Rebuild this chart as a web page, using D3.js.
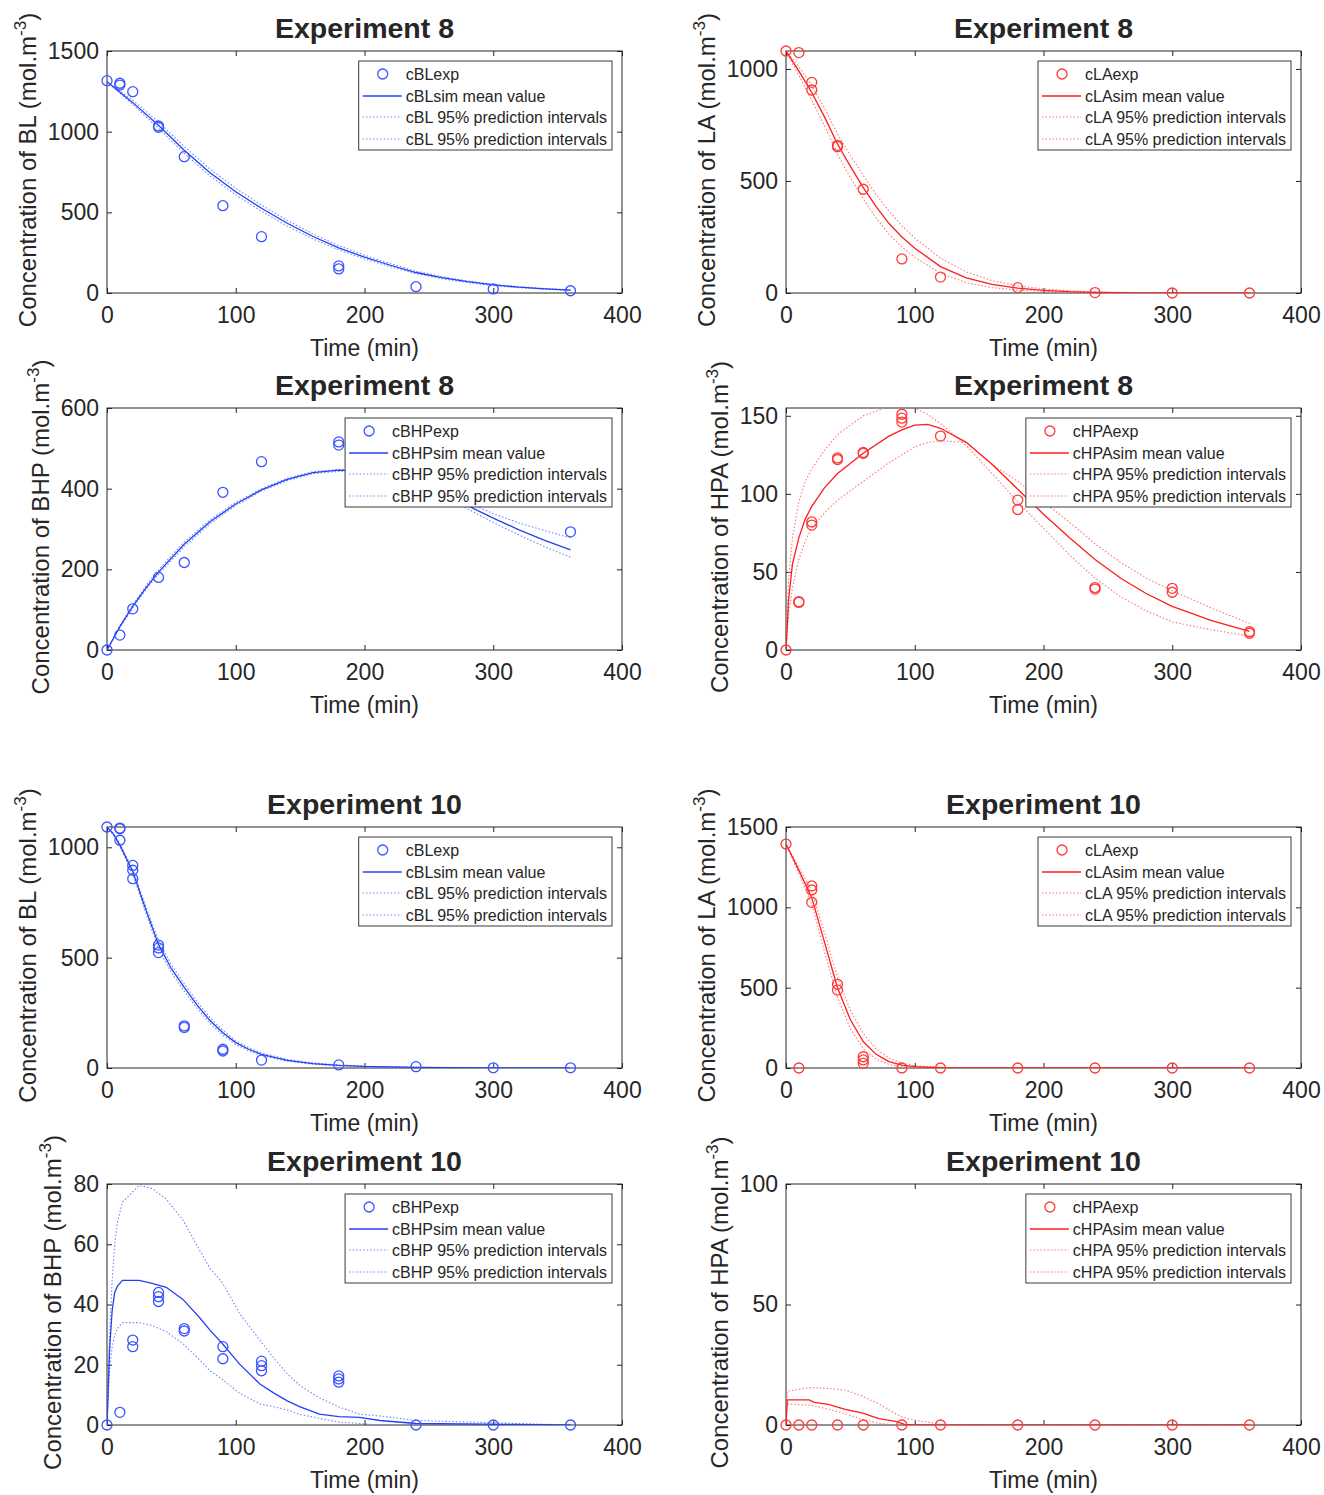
<!DOCTYPE html>
<html><head><meta charset="utf-8">
<script src="https://cdn.jsdelivr.net/npm/d3@7"></script>
<style>
body{margin:0;background:#fff}
text{font-family:"Liberation Sans",Arial,Helvetica,sans-serif;fill:#262626}
</style>
</head><body>
<svg id="chart" width="1324" height="1495"></svg>
<script>
// ---------- DATA ----------
const xTicks = [0,100,200,300,400];

// Exp 8 - BL
const bl8ExpT = [0,10,10,20,40,40,60,90,120,180,180,240,300,360];
const bl8ExpY = [1316,1300,1289,1248,1035,1027,845,541,349,168,149,39,25,14];
const bl8SimT = [0,20,40,60,80,100,120,140,160,180,200,220,240,260,280,300,320,340,360];
const bl8Sim  = [1310,1180,1040,885,745,628,525,432,350,280,222,172,127,95,70,50,36,26,18];
const bl8Pi1  = [1310,1195,1060,908,768,650,545,450,366,294,234,182,135,101,75,54,39,28,20];
const bl8Pi2  = [1310,1168,1022,866,725,608,506,415,335,267,211,163,120,89,65,46,33,24,16];

// Exp 8 - LA
const la8ExpT = [0,10,20,20,40,40,60,90,120,180,240,300,360];
const la8ExpY = [1080,1073,940,906,659,653,463,152,71,24,2,0,0];
const la8SimT = [0,10,20,30,40,50,60,70,80,90,100,120,140,160,180,200,220,240,270,300,330,360];
const la8Sim  = [1080,990,895,785,665,565,470,385,310,250,200,118,68,38,22,12,6,3,1,0,0,0];
const la8Pi1  = [1080,1010,925,825,710,615,525,440,365,300,245,155,95,55,32,18,10,5,2,1,0,0];
const la8Pi2  = [1080,970,860,745,620,515,420,335,262,205,160,88,46,24,13,7,3,1,0,0,0,0];

// Exp 8 - BHP
const bhp8ExpT = [0,10,20,40,60,90,120,180,180,240,300,360];
const bhp8ExpY = [0,37,102,180,217,391,467,516,508,440,375,293];
const bhp8SimT = [0,10,20,30,40,60,80,100,120,140,160,180,200,220,240,260,280,300,320,340,360];
const bhp8Sim  = [0,58,108,153,193,262,318,362,397,423,440,446,443,432,413,388,358,327,298,272,248];
const bhp8Pi1  = [0,60,112,158,199,268,323,366,400,426,442,448,446,436,418,394,366,338,315,296,278];
const bhp8Pi2  = [0,56,104,149,188,256,313,358,394,420,437,443,439,427,407,381,350,316,285,256,230];

// Exp 8 - HPA
const hpa8ExpT = [0,10,10,20,20,40,40,60,60,90,90,90,120,180,180,240,240,300,300,360,360];
const hpa8ExpY = [0,31,30.5,82,80,123,122,126.5,126,151,148.5,146,137,96,90,40,39,39.5,37,11.7,10.7];
const hpa8SimT = [0,2,5,10,15,20,30,40,60,80,90,100,110,120,140,160,180,200,220,240,260,280,300,330,360];
const hpa8Sim  = [0,32,55,72,84,92,104,113,126,137,141,144,144.5,142,133,119,103,87,72,58,46,36,28,19,12];
const hpa8Pi1  = [0,45,72,95,108,116,128,138,150,156,156.5,155,151,145,131,113,95,78,61,46,34,25,18,13,9];
const hpa8Pi2  = [0,22,40,58,70,78,88,96,108,120,125,130,133,134,133,119,108,95,82,68,56,46,38,27,17];

// Exp 10 - BL
const bl10ExpT = [0,10,10,10,20,20,20,40,40,40,60,60,90,90,120,180,240,300,360];
const bl10ExpY = [1092,1087,1084,1032,918,896,858,557,544,523,191,184,85,77,36,14,6,1,1];
const bl10SimT = [0,5,10,20,30,40,50,60,70,80,90,100,110,120,140,160,180,200,240,300,360];
const bl10Sim  = [1092,1060,1010,890,720,560,450,365,285,215,160,115,85,62,35,20,12,7,3,1,0];
const bl10Pi1  = [1092,1064,1016,900,735,578,468,382,300,228,171,124,92,68,39,23,14,8,3,1,0];
const bl10Pi2  = [1092,1056,1004,880,705,542,432,348,270,202,149,106,78,56,31,17,10,6,2,1,0];

// Exp 10 - LA
const la10ExpT = [0,10,20,20,20,40,40,60,60,60,90,120,180,240,300,360];
const la10ExpY = [1394,0,1133,1108,1031,521,485,70,50,29,0,0,0,0,0,0];
const la10SimT = [0,10,20,30,40,50,60,70,80,90,100,120,140,360];
const la10Sim  = [1394,1230,1060,780,500,300,165,85,40,18,8,2,0,0];
const la10Pi1  = [1394,1250,1100,840,565,360,215,120,62,30,14,4,1,0];
const la10Pi2  = [1394,1210,1020,720,440,245,120,55,22,8,3,0,0,0];

// Exp 10 - BHP
const bhp10ExpT = [0,10,20,20,40,40,40,60,60,90,90,120,120,120,180,180,180,240,300,360];
const bhp10ExpY = [0,4.2,28.2,26,44,42.6,41,32,31.2,26,22,21.2,19.7,18,16.3,15.3,14.2,0,0,0];
const bhp10SimT = [0,2,4,6,8,12,25,35,46,59,72,80,90,103,119,130,140,150,165,180,196,212,240,360];
const bhp10Sim  = [0,25,38,44,46,48,48,47,45.7,41.7,35.6,31.5,26.8,20.2,13.5,10.5,8,6,3.6,2.8,2.5,1.5,0.5,0];
const bhp10Pi1  = [0,30,48,60,67,74,79.5,78.5,75,68,58,52,47,37,28,22,17,13,9,6,3.6,3,1.5,0];
const bhp10Pi2  = [0,18,26,30,32,34,34,33,31,27,21.6,18,15,10.5,7,6,5,3.5,2.2,1,0.5,0,0,0];

// Exp 10 - HPA
const hpa10ExpT = [0,10,20,40,60,90,120,180,240,300,360];
const hpa10ExpY = [0,0,0,0,0,0,0,0,0,0,0];
const hpa10SimT = [0,1,18,22,33,46,59,72,85,92,100,120,140,360];
const hpa10Sim  = [0,10.4,10.4,9.4,8.6,6.5,5,2.6,1.5,0.3,0,0,0,0];
const hpa10Pi1  = [0,14,15.5,15.5,15.2,14.5,12,8.8,4.7,3,2,0.3,0,0];
const hpa10Pi2  = [0,8.7,8.2,8,6.5,4.7,2.4,0.7,0,0,0,0,0,0];

const titles = ["Experiment 8","Experiment 8","Experiment 8","Experiment 8","Experiment 10","Experiment 10","Experiment 10","Experiment 10"];
const species = ["BL","LA","BHP","HPA","BL","LA","BHP","HPA"];
const yMaxes = [1500,1080,600,155,1092,1500,80,100];
const yTickSets = [[0,500,1000,1500],[0,500,1000],[0,200,400,600],[0,50,100,150],[0,500,1000],[0,500,1000,1500],[0,20,40,60,80],[0,50,100]];

// ---------- STYLE / LAYOUT ----------
const COLORS = {
  blue:{line:"#2340f2", mark:"#3a55ff", dot:"#6f86ff"},
  red:{line:"#ff1c1c", mark:"#ff3a3a", dot:"#ff7676"}
};
const colX = [107, 786];
const rowY = [51, 408, 827, 1184];
const rowH = [242, 242, 241, 241];
const PW = 515;

const panels = [
  {expT:bl8ExpT,expY:bl8ExpY,simT:bl8SimT,sim:bl8Sim,pi1:bl8Pi1,pi2:bl8Pi2,color:"blue"},
  {expT:la8ExpT,expY:la8ExpY,simT:la8SimT,sim:la8Sim,pi1:la8Pi1,pi2:la8Pi2,color:"red"},
  {expT:bhp8ExpT,expY:bhp8ExpY,simT:bhp8SimT,sim:bhp8Sim,pi1:bhp8Pi1,pi2:bhp8Pi2,color:"blue"},
  {expT:hpa8ExpT,expY:hpa8ExpY,simT:hpa8SimT,sim:hpa8Sim,pi1:hpa8Pi1,pi2:hpa8Pi2,color:"red"},
  {expT:bl10ExpT,expY:bl10ExpY,simT:bl10SimT,sim:bl10Sim,pi1:bl10Pi1,pi2:bl10Pi2,color:"blue"},
  {expT:la10ExpT,expY:la10ExpY,simT:la10SimT,sim:la10Sim,pi1:la10Pi1,pi2:la10Pi2,color:"red"},
  {expT:bhp10ExpT,expY:bhp10ExpY,simT:bhp10SimT,sim:bhp10Sim,pi1:bhp10Pi1,pi2:bhp10Pi2,color:"blue"},
  {expT:hpa10ExpT,expY:hpa10ExpY,simT:hpa10SimT,sim:hpa10Sim,pi1:hpa10Pi1,pi2:hpa10Pi2,color:"red"}
];

const svg = d3.select("#chart");
const defs = svg.append("defs");
const AX = "#262626";
const fmt = d3.format("d");

panels.forEach((p, i) => {
  const col = i % 2, row = Math.floor(i / 2);
  const left = colX[col], top = rowY[row], H = rowH[row];
  const c = COLORS[p.color];
  const sp = species[i];
  const x = d3.scaleLinear().domain([0,400]).range([left, left + PW]);
  const y = d3.scaleLinear().domain([0, yMaxes[i]]).range([top + H, top]);
  const g = svg.append("g");

  const clipId = "clip" + i;
  defs.append("clipPath").attr("id", clipId).append("rect")
    .attr("x", left).attr("y", top).attr("width", PW).attr("height", H);

  const TL = 5;
  const xb = d3.axisBottom(x).tickValues(xTicks).tickFormat(fmt).tickSizeInner(-TL).tickSizeOuter(0).tickPadding(14);
  const gxb = g.append("g").attr("transform", `translate(0,${top + H})`).call(xb);
  const xt = d3.axisTop(x).tickValues(xTicks).tickSizeInner(-TL).tickSizeOuter(0).tickFormat("");
  const gxt = g.append("g").attr("transform", `translate(0,${top})`).call(xt);
  const yl = d3.axisLeft(y).tickValues(yTickSets[i]).tickFormat(fmt).tickSizeInner(-TL).tickSizeOuter(0).tickPadding(8);
  const gyl = g.append("g").attr("transform", `translate(${left},0)`).call(yl);
  const yr = d3.axisRight(y).tickValues(yTickSets[i]).tickSizeInner(-TL).tickSizeOuter(0).tickFormat("");
  const gyr = g.append("g").attr("transform", `translate(${left + PW},0)`).call(yr);
  [gxb, gxt, gyl, gyr].forEach(a => {
    a.select(".domain").remove();
    a.selectAll("line").attr("stroke", AX).attr("stroke-width", 1);
    a.selectAll("text").attr("font-size", 23).attr("fill", AX)
      .style("font-family", '"Liberation Sans", Arial, sans-serif');
  });
  gxb.selectAll("text").attr("dy", "0.71em");
  g.append("rect").attr("x", left).attr("y", top).attr("width", PW).attr("height", H)
    .attr("fill", "none").attr("stroke", AX).attr("stroke-width", 1);

  // lines
  const line = (vals) => d3.line().x((d, k) => x(p.simT[k])).y(d => y(d))(vals);
  const lg = g.append("g").attr("clip-path", `url(#${clipId})`);
  lg.append("path").attr("d", line(p.pi1)).attr("fill", "none").attr("stroke", c.dot)
    .attr("stroke-width", 1.1).attr("stroke-dasharray", "1.5,2");
  lg.append("path").attr("d", line(p.pi2)).attr("fill", "none").attr("stroke", c.dot)
    .attr("stroke-width", 1.1).attr("stroke-dasharray", "1.5,2");
  lg.append("path").attr("d", line(p.sim)).attr("fill", "none").attr("stroke", c.line)
    .attr("stroke-width", 1.3);

  // markers
  g.append("g").selectAll("circle").data(p.expT).join("circle")
    .attr("cx", (d) => x(d)).attr("cy", (d, k) => y(p.expY[k])).attr("r", 5)
    .attr("fill", "none").attr("stroke", c.mark).attr("stroke-width", 1.3);

  // title
  g.append("text").attr("x", left + PW / 2).attr("y", top - 13).attr("text-anchor", "middle")
    .attr("font-size", 28.5).attr("font-weight", "bold").attr("fill", "#1a1a1a").text(titles[i]);

  // x label
  g.append("text").attr("x", left + PW / 2).attr("y", top + H + 63).attr("text-anchor", "middle")
    .attr("font-size", 23).text("Time (min)");

  // y label
  let maxW = 0;
  gyl.selectAll("text").each(function(){ maxW = Math.max(maxW, this.getComputedTextLength()); });
  const lx = left - 8 - maxW - 12;
  const ylab = g.append("text").attr("transform", `translate(${lx},${top + H / 2 - 2}) rotate(-90)`)
    .attr("text-anchor", "middle").attr("font-size", 24);
  ylab.append("tspan").text(`Concentration of ${sp} (mol.m`);
  ylab.append("tspan").attr("font-size", 17).attr("dy", -10).text("-3");
  ylab.append("tspan").attr("dy", 10).text(")");

  // legend
  const labels = [`c${sp}exp`, `c${sp}sim mean value`, `c${sp} 95% prediction intervals`, `c${sp} 95% prediction intervals`];
  const leg = g.append("g");
  const box = leg.append("rect").attr("fill", "#fff").attr("stroke", "#3a3a3a").attr("stroke-width", 1);
  const rowsY = [23, 45, 66, 88].map(v => top + v);
  const texts = labels.map((t, k) => leg.append("text").attr("y", rowsY[k]).attr("dy", "0.35em")
    .attr("font-size", 16).attr("fill", AX).text(t));
  let tw = 0;
  texts.forEach(t => tw = Math.max(tw, t.node().getComputedTextLength()));
  const bw = tw + 52;
  const bx = left + PW - 10 - bw;
  box.attr("x", bx).attr("y", top + 10).attr("width", bw).attr("height", 89);
  texts.forEach(t => t.attr("x", bx + 47));
  leg.append("circle").attr("cx", bx + 24).attr("cy", rowsY[0]).attr("r", 5)
    .attr("fill", "none").attr("stroke", c.mark).attr("stroke-width", 1.3);
  leg.append("line").attr("x1", bx + 4).attr("x2", bx + 43).attr("y1", rowsY[1]).attr("y2", rowsY[1])
    .attr("stroke", c.line).attr("stroke-width", 1.3);
  [2, 3].forEach(k => leg.append("line").attr("x1", bx + 4).attr("x2", bx + 43)
    .attr("y1", rowsY[k]).attr("y2", rowsY[k]).attr("stroke", c.dot).attr("stroke-width", 1.1)
    .attr("stroke-dasharray", "1.5,2"));
});
</script>
</body></html>
